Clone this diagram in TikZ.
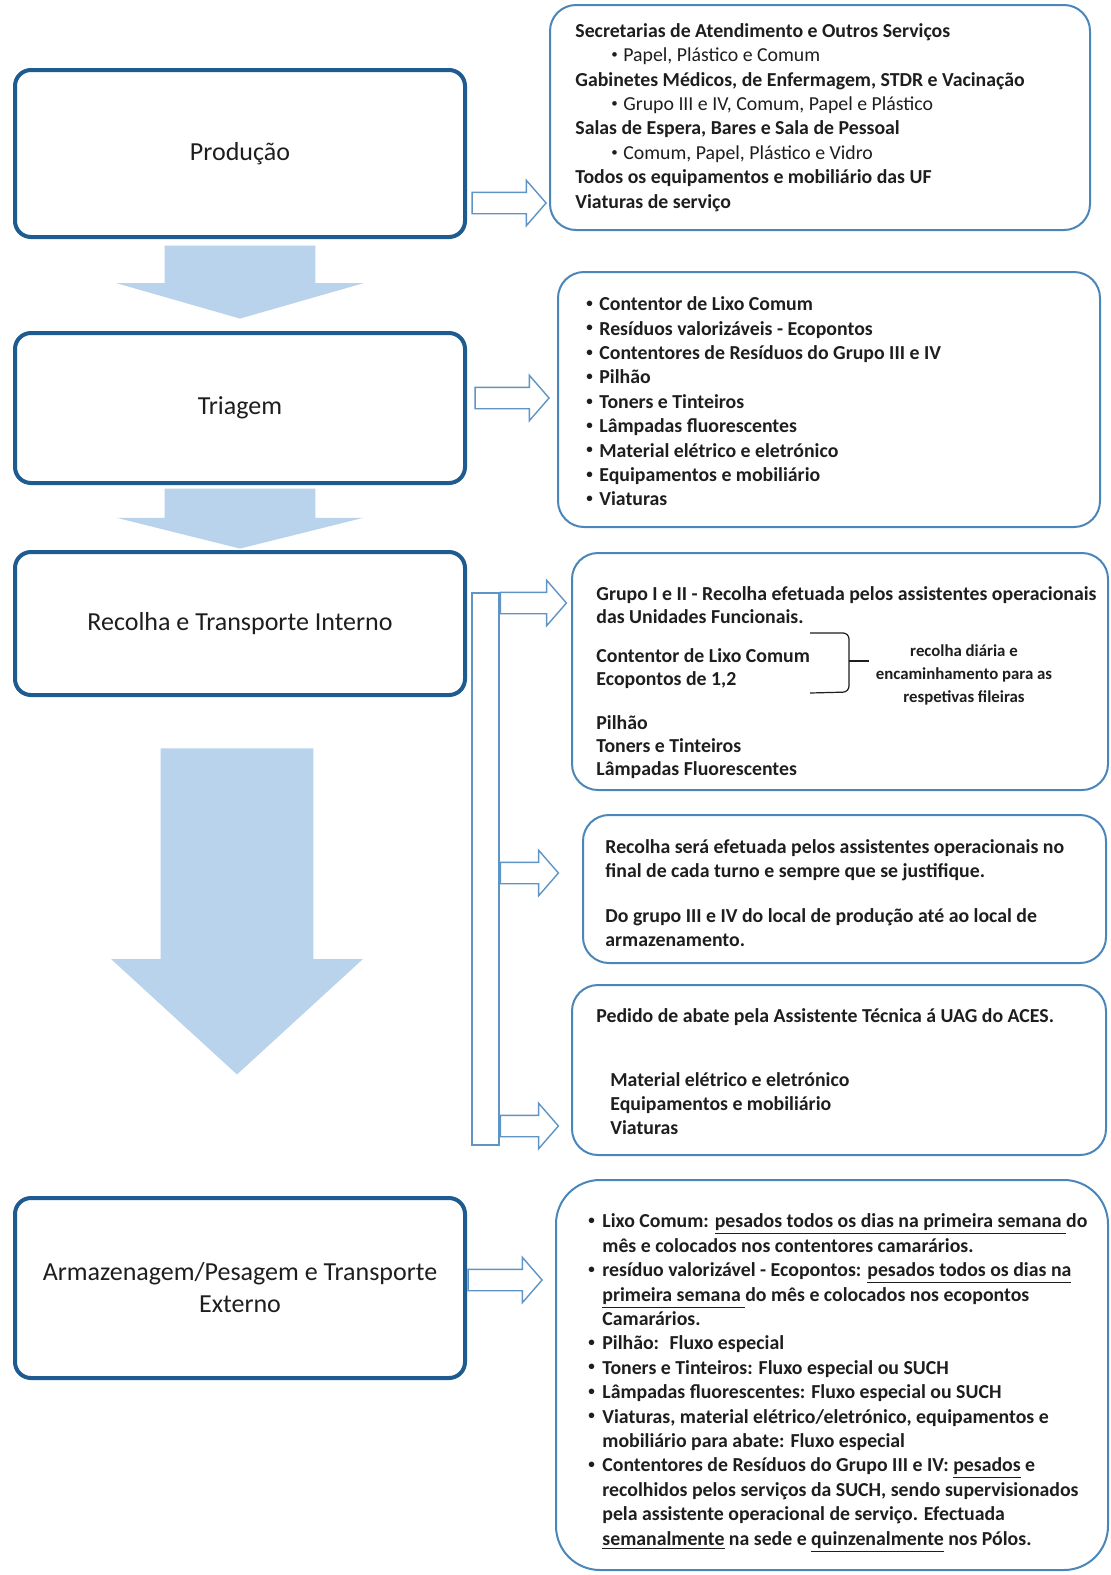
\documentclass[tikz,border=0pt]{standalone}
\usepackage{fontspec}
\setmainfont{Carlito}
\usetikzlibrary{shapes.arrows}
\definecolor{stageblue}{HTML}{1D5B90}
\definecolor{boxblue}{HTML}{4A86BA}
\definecolor{flowblue}{HTML}{B9D3EC}
\definecolor{tipblue}{HTML}{5E94C6}
\definecolor{ink}{HTML}{1E1E1E}
\newcommand{\bul}[1][6.5pt]{\makebox[#1][l]{\raisebox{0.35ex}{\fontsize{6.5}{6.5}\selectfont\textbullet}}}

\begin{document}
\begin{tikzpicture}[x=0.5pt, y=-0.5pt, text=ink,
  stage/.style={draw=stageblue, line width=2pt, rounded corners=8pt, fill=white,
                align=center, minimum width=225pt, font=\fontsize{13}{16}\selectfont},
  info/.style={draw=boxblue, line width=1pt, rounded corners=13pt, fill=white},
  infotext/.style={inner sep=0pt, align=left, anchor=west,
                   font=\fontsize{9.9}{12.2}\selectfont\bfseries},
  flow/.style={single arrow, fill=flowblue, rotate=-90, inner xsep=0pt, inner ysep=37.5pt,
               single arrow head extend=24pt, anchor=tip},
  hollow/.style={single arrow, draw=tipblue, fill=white, line width=0.7pt, inner xsep=0pt,
                 inner ysep=5pt, single arrow head extend=6pt, single arrow tip angle=98,
                 minimum height=37pt, anchor=tip},
]
\useasboundingbox (0,0) rectangle (1111,1575);

% stages on the left
\node[stage, minimum height=83.5pt] (prod) at (240,153.5) {Produção};
\node[stage, minimum height=75pt] (tri) at (240,408) {Triagem};
\node[stage, minimum height=71.5pt] (rec) at (240,623.5) {Recolha e Transporte Interno};
\node[stage, minimum height=90pt] (arm) at (240,1288) {Armazenagem/Pesagem e Transporte\\ Externo};

% flow between stages
\node[flow, minimum height=36.5pt, single arrow tip angle=148] (d1) at (240,319) {};
\node[flow, minimum height=30pt, single arrow tip angle=152] (d2) at (240,549) {};
\node[flow, minimum height=163pt, inner ysep=38pt, single arrow head extend=24.75pt,
      single arrow tip angle=95] (d3) at (237,1075) {};

% boxes on the right
\node[info, minimum width=270pt, minimum height=112.5pt] (r1) at (820,117.5) {};
\node[infotext] (t1) at ([xshift=13pt]r1.west)
  {Secretarias de Atendimento e Outros Serviços\\
   \hspace*{18pt}{\mdseries\bul[6pt]Papel, Plástico e Comum}\\
   Gabinetes Médicos, de Enfermagem, STDR e Vacinação\\
   \hspace*{18pt}{\mdseries\bul[6pt]Grupo III e IV, Comum, Papel e Plástico}\\
   Salas de Espera, Bares e Sala de Pessoal\\
   \hspace*{18pt}{\mdseries\bul[6pt]Comum, Papel, Plástico e Vidro}\\
   Todos os equipamentos e mobiliário das UF\\
   Viaturas de serviço};

\node[info, minimum width=271pt, minimum height=127.5pt] (r2) at (829,399.5) {};
\node[infotext] (t2) at ([xshift=14.5pt, yshift=-1pt]r2.west)
  {\bul Contentor de Lixo Comum\\
   \bul Resíduos valorizáveis - Ecopontos\\
   \bul Contentores de Resíduos do Grupo III e IV\\
   \bul Pilhão\\
   \bul Toners e Tinteiros\\
   \bul Lâmpadas fluorescentes\\
   \bul Material elétrico e eletrónico\\
   \bul Equipamentos e mobiliário\\
   \bul Viaturas};

\node[info, minimum width=268pt, minimum height=118.5pt] (r3) at (840,671.5) {};
\node[infotext, font=\fontsize{9.9}{11.6}\selectfont\bfseries] (t3)
  at ([xshift=12.5pt, yshift=-5.5pt]r3.west)
  {Grupo I e II - Recolha efetuada pelos assistentes operacionais\\
   das Unidades Funcionais.\\[8pt]
   Contentor de Lixo Comum\\
   Ecopontos de 1,2\\[10pt]
   Pilhão\\
   Toners e Tinteiros\\
   Lâmpadas Fluorescentes};
\draw[ink, line width=0.6pt, rounded corners=3pt] (810,633) -- (849,633) -- (849,692) -- (810,693);
\draw[ink, line width=0.6pt] (849,661) -- (869,661);
\node[inner sep=0pt, align=center, font=\fontsize{8.4}{11.5}\selectfont\bfseries] (note)
  at (964,675) {recolha diária e\\ encaminhamento para as\\ respetivas fileiras};

\node[info, minimum width=261.5pt, minimum height=74pt] (r4) at (844.5,889) {};
\node[infotext] (t4) at ([xshift=11.5pt, yshift=-2pt]r4.west)
  {Recolha será efetuada pelos assistentes operacionais no\\
   final de cada turno e sempre que se justifique.\\[10pt]
   Do grupo III e IV do local de produção até ao local de\\
   armazenamento.};

\node[info, minimum width=267pt, minimum height=85pt] (r5) at (839,1070) {};
\node[infotext] (t5) at ([xshift=12.5pt, yshift=-1pt]r5.west)
  {Pedido de abate pela Assistente Técnica á UAG do ACES.\\[19.5pt]
   \hspace*{7pt}Material elétrico e eletrónico\\
   \hspace*{7pt}Equipamentos e mobiliário\\
   \hspace*{7pt}Viaturas};

\node[info, rounded corners=22pt, minimum width=276pt, minimum height=195pt] (r6) at (832,1375) {};
\node[infotext] (t6) at ([xshift=16.5pt, yshift=-4pt]r6.west)
  {\bul[7pt]Lixo Comum: \underline{pesados todos os dias na primeira semana\ }do\\
   \hspace*{7pt}mês e colocados nos contentores camarários.\\
   \bul[7pt]resíduo valorizável - Ecopontos: \underline{pesados todos os dias na}\\
   \hspace*{7pt}\underline{primeira semana\ }do mês e colocados nos ecopontos\\
   \hspace*{7pt}Camarários.\\
   \bul[7pt]Pilhão:~ Fluxo especial\\
   \bul[7pt]Toners e Tinteiros: Fluxo especial ou SUCH\\
   \bul[7pt]Lâmpadas fluorescentes: Fluxo especial ou SUCH\\
   \bul[7pt]Viaturas, material elétrico/eletrónico, equipamentos e\\
   \hspace*{7pt}mobiliário para abate: Fluxo especial\\
   \bul[7pt]Contentores de Resíduos do Grupo III e IV: \underline{pesados} e\\
   \hspace*{7pt}recolhidos pelos serviços da SUCH, sendo supervisionados\\
   \hspace*{7pt}pela assistente operacional de serviço. Efectuada\\
   \hspace*{7pt}\underline{semanalmente} na sede e \underline{quinzenalmente} nos Pólos.};

% hollow arrows from stage to box
\node[hollow] (a1) at (547,203) {};
\node[hollow] (a2) at (550,398) {};
\node[hollow] (a6) at (543,1280) {};

% branch out of the internal transport stage
\node[draw=tipblue, fill=white, line width=0.7pt, inner sep=0pt,
      minimum width=13.5pt, minimum height=276pt] (bar) at (485.5,869) {};
\node[hollow, anchor=tail, minimum height=33pt] (a3) at (bar.east |- 0,603) {};
\node[hollow, anchor=tail, minimum height=29pt] (a4) at (bar.east |- 0,873) {};
\node[hollow, anchor=tail, minimum height=29pt] (a5) at (bar.east |- 0,1126) {};
\end{tikzpicture}
\end{document}
